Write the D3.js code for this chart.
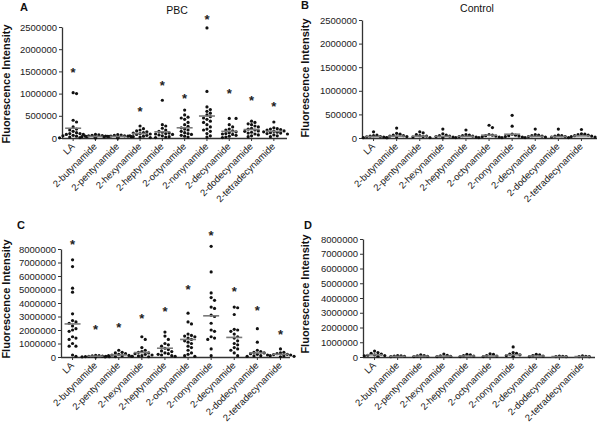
<!DOCTYPE html>
<html><head><meta charset="utf-8">
<script src="https://cdn.jsdelivr.net/npm/d3@7"></script>
<style>body{margin:0;background:#fff}svg{display:block}text{font-family:Arial,"Liberation Sans",sans-serif}</style>
</head><body><svg id="c" width="601" height="425"></svg>
<script>
const categories = ["LA","2-butynamide","2-pentynamide","2-hexynamide","2-heptynamide","2-octynamide","2-nonynamide","2-decynamide","2-dodecynamide","2-tetradecynamide"];
const ticksAB = [0,500000,1000000,1500000,2000000,2500000];
const ticksCD = [0,1000000,2000000,3000000,4000000,5000000,6000000,7000000,8000000];

const valuesA = [
 [1000000,1020000,400000,360000,250000,200000,180000,150000,120000,100000,80000,60000,50000,30000,20000,10000,5000,100000,80000,40000],
 [80000,70000,60000,55000,50000,45000,40000,35000,30000,25000,20000,15000,10000,5000,0],
 [75000,65000,60000,50000,45000,40000,35000,30000,25000,20000,15000,10000,5000,2000],
 [270000,210000,180000,160000,140000,120000,110000,100000,90000,80000,60000,50000,40000,30000,20000,10000],
 [850000,300000,270000,220000,180000,150000,130000,110000,100000,90000,80000,70000,50000,30000,20000,10000],
 [630000,520000,470000,450000,420000,350000,300000,260000,230000,200000,180000,150000,120000,100000,80000,60000,40000,20000],
 [2480000,1050000,700000,640000,600000,560000,520000,480000,450000,420000,380000,350000,300000,250000,200000,180000,150000,100000,50000,20000],
 [440000,440000,300000,250000,200000,180000,160000,140000,120000,100000,90000,80000,60000,40000,20000,10000],
 [380000,350000,320000,300000,270000,250000,220000,200000,180000,160000,150000,130000,110000,90000,70000,50000,30000],
 [360000,230000,210000,200000,190000,180000,160000,150000,140000,130000,120000,110000,100000,90000,70000,50000,30000]
];
const meansA = [220000,35000,35000,100000,140000,230000,495000,150000,190000,150000];
const starsA = [1530000,null,null,650000,1240000,945000,2720000,1050000,890000,760000];

const valuesB = [
 [130000,60000,50000,40000,30000,25000,20000,10000,5000],
 [210000,100000,80000,60000,50000,40000,30000,20000,10000],
 [130000,110000,70000,50000,40000,30000,20000,10000],
 [190000,90000,60000,50000,40000,30000,20000,10000],
 [170000,70000,60000,50000,40000,30000,20000,10000],
 [270000,220000,70000,60000,50000,40000,30000,20000,10000],
 [480000,250000,80000,60000,50000,40000,30000,20000,10000],
 [190000,70000,60000,50000,40000,30000,20000,10000],
 [190000,60000,50000,40000,30000,20000,10000],
 [180000,90000,80000,70000,60000,50000,40000,30000,20000]
];
const meansB = [30000,40000,40000,35000,35000,60000,80000,35000,30000,45000];

const valuesC = [
 [7200000,6700000,5100000,4800000,3200000,2700000,2600000,2500000,2300000,2100000,2000000,1900000,1500000,1400000,1300000,1000000,800000,800000,150000,50000],
 [120000,100000,80000,60000,50000,40000,30000,20000,10000,5000],
 [500000,350000,300000,250000,200000,150000,120000,100000,80000,50000,30000,10000],
 [1500000,1300000,700000,500000,400000,350000,300000,250000,200000,150000,100000,80000,50000,20000],
 [1850000,1550000,1300000,1000000,900000,800000,650000,550000,450000,400000,300000,250000,200000,150000,100000,50000],
 [3250000,2600000,2450000,1700000,1600000,1550000,1500000,1400000,1300000,1200000,1100000,1000000,800000,700000,500000,300000,200000,100000,50000],
 [8200000,6300000,4750000,4400000,4200000,3700000,3600000,3100000,3000000,2500000,2000000,1900000,1500000,1400000,1300000,600000,100000],
 [3700000,3650000,3150000,2050000,2000000,1900000,1700000,1500000,1400000,1200000,1000000,900000,700000,600000,500000,300000,100000],
 [2100000,1100000,500000,400000,350000,300000,250000,200000,150000,100000,80000,50000],
 [600000,350000,300000,250000,200000,180000,150000,100000,80000,50000,20000]
];
const meansC = [2450000,60000,150000,330000,650000,1300000,3050000,1450000,300000,200000];
const starsC = [8500000,2200000,2400000,3050000,3550000,5200000,9200000,5050000,3600000,1850000];

const valuesD = [
 [400000,300000,250000,200000,150000,120000,100000,80000,50000],
 [100000,80000,60000,40000,20000],
 [150000,100000,70000,50000,30000],
 [200000,120000,80000,50000,30000],
 [180000,150000,100000,60000,30000],
 [220000,180000,100000,60000,30000],
 [680000,300000,250000,200000,150000,100000,50000],
 [180000,150000,100000,60000,30000],
 [60000,40000,30000,20000],
 [70000,50000,30000,20000]
];
const meansD = [150000,40000,60000,60000,70000,70000,150000,70000,30000,30000];

const svg = d3.select("#c");

function panel(o){
  const g = svg.append("g");
  const x = d3.scaleBand().domain(categories).range([o.x0, o.x1]);
  const y = d3.scaleLinear().domain([0, o.ymax]).range([o.y0, o.ytop]);
  // y axis
  const ya = g.append("g").attr("transform",`translate(${o.x0},0)`)
    .call(d3.axisLeft(y).tickValues(o.ticks).tickSize(3).tickSizeOuter(0).tickFormat(d3.format("d")));
  ya.select(".domain").attr("stroke","#333").attr("stroke-width",1.3);
  ya.selectAll(".tick line").attr("stroke","#333");
  ya.selectAll(".tick text").attr("font-size","9.5px").attr("fill","#222").attr("x",-5);
  // x axis
  const xa = g.append("g").attr("transform",`translate(0,${o.y0})`)
    .call(d3.axisBottom(x).tickSize(3).tickSizeOuter(0));
  xa.select(".domain").attr("d",`M${o.x0},0.5H${o.xend}`).attr("stroke","#333").attr("stroke-width",1.5);
  xa.selectAll(".tick line").attr("stroke","#333");
  xa.selectAll(".tick text").attr("font-size","9.5px").attr("fill","#222")
    .attr("text-anchor","end").attr("dy",0).attr("y",0)
    .attr("transform","translate(2,9) rotate(-45)");
  // points with deterministic beeswarm
  const r = 1.6;
  o.values.forEach((vals,i)=>{
    const cx = x(categories[i]) + x.bandwidth()/2;
    const placed = [];
    vals.slice().sort((a,b)=>b-a).forEach(v=>{
      const py = y(v);
      const cand = [0,3.4,-3.4,6.8,-6.8,10.2,-10.2,13.6,-13.6];
      let off = 0;
      for(const c of cand){
        if(placed.every(p=> (p.x-c)**2 + (p.y-py)**2 >= (2*r+0.2)**2)){ off=c; break; }
      }
      placed.push({x:off,y:py});
      g.append("circle").attr("cx",cx+off).attr("cy",py).attr("r",r).attr("fill","#111");
    });
    g.append("line").attr("x1",cx-8).attr("x2",cx+8)
      .attr("y1",y(o.means[i])).attr("y2",y(o.means[i]))
      .attr("stroke","#7a7a7a").attr("stroke-width",1.6);
    if(o.stars && o.stars[i]!=null){
      g.append("text").attr("x",cx).attr("y",y(o.stars[i])+7).attr("text-anchor","middle")
        .attr("font-size","13px").attr("font-weight","bold").attr("fill","#222").text("*");
    }
  });
  // y title
  g.append("text").attr("transform",`translate(${o.tx},${o.ty}) rotate(-90)`)
    .attr("text-anchor","middle").attr("font-size","11px").attr("font-weight","bold").attr("fill","#111")
    .text("Fluorescence Intensity");
  // letter
  g.append("text").attr("x",o.lx).attr("y",o.ly).attr("font-size","11px").attr("font-weight","bold").attr("fill","#111").text(o.letter);
  if(o.title){
    g.append("text").attr("x",o.titx).attr("y",o.tity).attr("text-anchor","middle").attr("font-size","10.5px").attr("fill","#111").text(o.title);
  }
}

panel({x0:62,x1:285,xend:287,y0:138,ytop:27,ymax:2500000,ticks:ticksAB,values:valuesA,means:meansA,stars:starsA,
  tx:10,ty:84,letter:"A",lx:20,ly:11,title:"PBC",titx:177,tity:14});
panel({x0:362,x1:593,xend:597,y0:138,ytop:20,ymax:2500000,ticks:ticksAB,values:valuesB,means:meansB,stars:null,
  tx:309,ty:78,letter:"B",lx:301,ly:9,title:"Control",titx:477,tity:12});
panel({x0:61,x1:292,xend:290,y0:357,ytop:249,ymax:8000000,ticks:ticksCD,values:valuesC,means:meansC,stars:starsC,
  tx:10,ty:299,letter:"C",lx:17,ly:229,title:null});
panel({x0:363,x1:594,xend:595,y0:357,ytop:239,ymax:8000000,ticks:ticksCD,values:valuesD,means:meansD,stars:null,
  tx:309,ty:294,letter:"D",lx:304,ly:229,title:null});
</script></body></html>
